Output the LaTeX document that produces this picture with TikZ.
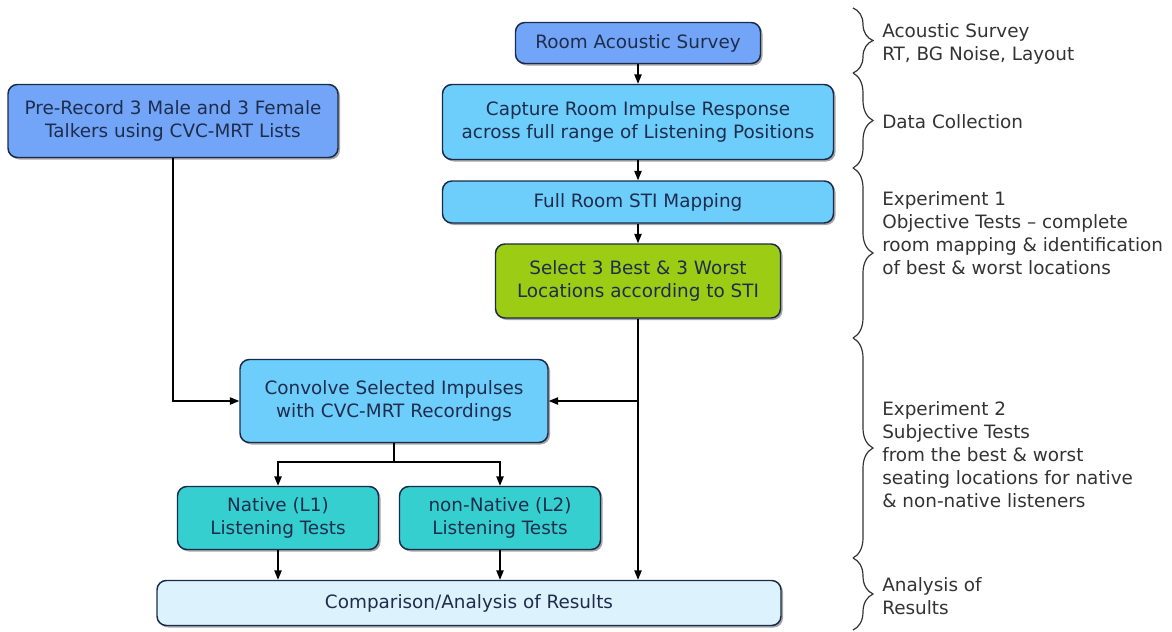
\documentclass[tikz,border=0pt]{standalone}
\usepackage{fontspec}
\setmainfont{DejaVu Sans}
\usetikzlibrary{shadows,decorations.pathreplacing,arrows.meta}
\definecolor{bdr}{HTML}{1B2A4A}
\definecolor{txt}{HTML}{1F2D4D}
\definecolor{cblue}{HTML}{72A5F7}
\definecolor{clight}{HTML}{6DCDFB}
\definecolor{cgreen}{HTML}{9CCC14}
\definecolor{cteal}{HTML}{36CFCF}
\definecolor{cpale}{HTML}{DCF3FD}
\definecolor{gtxt}{HTML}{333333}
\tikzset{
  box/.style={draw=bdr, line width=1.1pt, rounded corners=7pt, text=txt, align=center,
    inner sep=0pt, font=\fontsize{13.8}{17.25}\selectfont,
    drop shadow={shadow xshift=1.5pt, shadow yshift=-1.5pt, opacity=0.35, fill=black}},
  arr/.style={-{Triangle[length=7pt,width=5.5pt]}, line width=0.9pt, black},
  conn/.style={line width=0.9pt, black},
  brc/.style={decorate, decoration={brace, amplitude=15pt}, line width=0.9pt, gtxt},
  lbl/.style={anchor=west, align=left, text=gtxt, inner sep=0pt, font=\fontsize{13.8}{17.25}\selectfont}
}
\begin{document}
\begin{tikzpicture}[x=0.75pt,y=-0.75pt]
\useasboundingbox (0,0) rectangle (1172,632);
\node[box, fill=cblue, minimum width=183.75pt, minimum height=30.75pt] (ras) at (638,43) {Room Acoustic Survey};
\node[box, fill=clight, minimum width=293.25pt, minimum height=56.25pt] (cap) at (638,122) {Capture Room Impulse Response\\across full range of Listening Positions};
\node[box, fill=clight, minimum width=293.25pt, minimum height=31.5pt] (sti) at (638,202) {Full Room STI Mapping};
\node[box, fill=cgreen, minimum width=213.75pt, minimum height=55.5pt] (sel) at (638,281) {Select 3 Best \& 3 Worst\\Locations according to STI};
\node[box, fill=cblue, minimum width=247.5pt, minimum height=54.75pt] (pre) at (173,121) {Pre-Record 3 Male and 3 Female\\Talkers using CVC-MRT Lists};
\node[box, fill=clight, minimum width=231pt, minimum height=62.25pt] (conv) at (394,401) {Convolve Selected Impulses\\with CVC-MRT Recordings};
\node[box, fill=cteal, minimum width=150.75pt, minimum height=47.25pt] (nat) at (278,518) {Native (L1)\\Listening Tests};
\node[box, fill=cteal, minimum width=150.75pt, minimum height=47.25pt] (non) at (500,518) {non-Native (L2)\\Listening Tests};
\node[box, fill=cpale, minimum width=468pt, minimum height=33.75pt] (cmp) at (469,603) {Comparison/Analysis of Results};

\draw[arr] (ras) -- (cap);
\draw[arr] (cap) -- (sti);
\draw[arr] (sti) -- (sel);
\draw[arr] (sel.south) -- (sel.south |- cmp.north);
\coordinate (j1) at (sel.south |- conv.east);
\draw[arr] (j1) -- (conv.east);
\draw[arr] (pre.south) |- (conv.west);
\coordinate (j2) at (394,462);
\draw[conn] (conv.south) -- (j2);
\draw[arr] (j2) -| (nat.north);
\draw[arr] (j2) -| (non.north);
\draw[arr] (nat.south) -- (nat.south |- cmp.north);
\draw[arr] (non.south) -- (non.south |- cmp.north);

\draw[brc] (853,8) -- (853,73);
\draw[brc] (853,73) -- (853,168);
\draw[brc] (853,168) -- (853,338);
\draw[brc] (853,338) -- (853,558);
\draw[brc] (853,558) -- (853,630);

\node[lbl] (l1) at (882,44) {Acoustic Survey\\RT, BG Noise, Layout};
\node[lbl] (l2) at (882,122) {Data Collection};
\node[lbl] (l3) at (882,233) {Experiment 1\\Objective Tests – complete\\room mapping \& identification\\of best \& worst locations};
\node[lbl] (l4) at (882,455) {Experiment 2\\Subjective Tests\\from the best \& worst\\seating locations for native\\\& non-native listeners};
\node[lbl] (l5) at (882,596) {Analysis of\\Results};
\end{tikzpicture}
\end{document}
